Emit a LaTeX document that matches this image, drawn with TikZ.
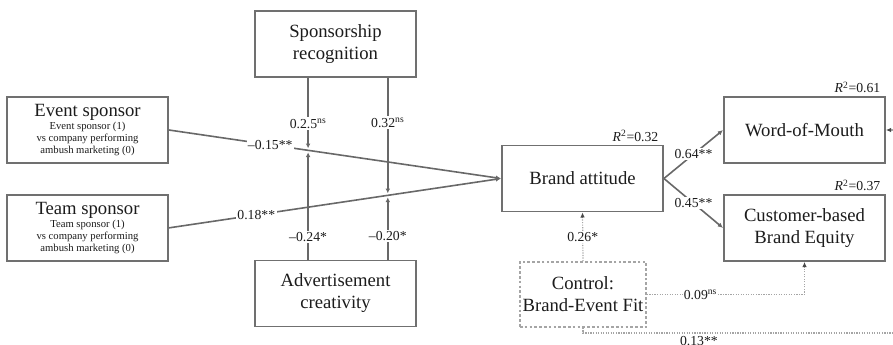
\documentclass[tikz,border=0pt]{standalone}
\usepackage{fontspec}
\setmainfont{Liberation Serif}
\usetikzlibrary{positioning,arrows.meta}
\definecolor{BoxGrey}{RGB}{112,112,112}
\definecolor{PathGrey}{RGB}{104,104,104}
\definecolor{CtrlGrey}{RGB}{165,165,165}
\definecolor{InkBlack}{RGB}{28,28,28}
\newcommand{\nsup}{\textsuperscript{ns}}
\newcommand{\rsquare}[1]{\textit{R}\textsuperscript{2}=#1}
\tikzset{
  box/.style={draw=BoxGrey,line width=1.4pt,fill=white,inner sep=2pt,
    minimum width=120.75pt,minimum height=49.5pt,align=center,
    text=InkBlack,font=\fontsize{14}{16.5}\selectfont},
  dummybox/.style={box,font=\fontsize{8}{9}\selectfont},
  ctrlbox/.style={box,draw=CtrlGrey,line width=1.2pt,dash pattern=on 2pt off 1.6pt,
    minimum width=93pt,minimum height=48.75pt},
  flow/.style={-{Latex[length=4pt,width=3.6pt]},line width=1.2pt,draw=PathGrey},
  modflow/.style={-{Latex[length=3.6pt,width=3.6pt]},line width=1.1pt,draw=PathGrey,
    shorten >=1.5pt},
  ctrlflow/.style={-{Latex[length=3.8pt,width=3.4pt,color=InkBlack!80]},line width=0.9pt,
    densely dotted,draw=CtrlGrey},
  coef/.style={fill=white,inner sep=1pt,text=InkBlack,font=\fontsize{10.3}{12}\selectfont},
  rsq/.style={anchor=south east,inner sep=1pt,xshift=-3pt,yshift=1pt,text=InkBlack,
    font=\fontsize{10.3}{12}\selectfont}
}

\begin{document}
\begin{tikzpicture}[x=0.75pt,y=-0.75pt]
  \useasboundingbox (0,0) rectangle (893,344);
  \clip (0,0) rectangle (893,344);
  \node[dummybox] (evt) at (87.5,130) {{\fontsize{14}{16.5}\selectfont Event sponsor}\\[1pt]
    Event sponsor (1)\\vs company performing\\ambush marketing (0)};
  \node[dummybox,below=22.5pt of evt] (team) {{\fontsize{14}{16.5}\selectfont Team sponsor}\\[1pt]
    Team sponsor (1)\\vs company performing\\ambush marketing (0)};
  \node[box] (spons) at (335.5,44) {Sponsorship\\recognition};
  \node[box] (adv) at (335.5,293.5) {Advertisement\\creativity};
  \node[box] (brand) at (582.5,178.5) {Brand attitude};
  \node[box] (wom) at (804.5,130) {Word-of-Mouth};
  \node[box] (cbbe) at (804.5,228) {Customer-based\\Brand Equity};
  \node[ctrlbox] (ctrl) at (583,294.5) {Control:\\Brand-Event Fit};

  \node[rsq] (rbrand) at (brand.north east) {\rsquare{0.32}};
  \node[rsq] (rwom) at (wom.north east) {\rsquare{0.61}};
  \node[rsq] (rcbbe) at (cbbe.north east) {\rsquare{0.37}};

  \draw[flow] (evt.east) -- coordinate[pos=0.419] (evtmod)
    node[coef,pos=0.305] {--0.15**} (brand.west);
  \draw[flow] (team.east) -- coordinate[pos=0.659] (teammod)
    node[coef,pos=0.263] {0.18**} (brand.west);

  \draw[modflow] (spons.south -| evtmod) -- node[coef,pos=0.63] {0.2.5\nsup} (evtmod);
  \draw[modflow] (adv.north -| evtmod) -- node[coef,pos=0.21] {--0.24*} (evtmod);
  \draw[modflow] (spons.south -| teammod) -- node[coef,pos=0.38] {0.32\nsup} (teammod);
  \draw[modflow] (adv.north -| teammod) -- node[coef,pos=0.36] {--0.20*} (teammod);

  \draw[flow] (brand.east) -- node[coef] {0.64**} (wom.west);
  \draw[flow] (brand.east) -- node[coef] {0.45**} (cbbe.west);

  % control paths, the last one runs round the right edge
  \coordinate (wrap) at (905,333);
  \draw[ctrlflow] (ctrl.north) -- node[coef] {0.26*} (brand.south);
  \draw[ctrlflow] (ctrl.east) -| node[coef,pos=0.17] {0.09\nsup} (cbbe.south);
  \draw[ctrlflow] (ctrl.south) |- node[coef,anchor=north,pos=0.68,yshift=-1pt] {0.13**}
    (wrap) |- (wom.east);
\end{tikzpicture}
\end{document}
